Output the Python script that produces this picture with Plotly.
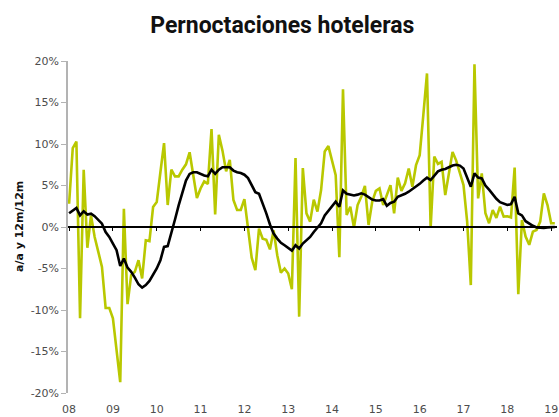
import plotly.graph_objects as go

# Monthly data, Jan 2008 .. Feb 2019 (index 0 = Jan 2008)
tick_labels = ["08", "09", "10", "11", "12", "13", "14", "15", "16", "17", "18", "19"]

aa_mensual = [
    2.8, 9.5, 10.3, -11.0, 6.9, -2.5, 1.4, -1.2, -3.0, -4.8, -9.75, -9.75,          # 2008
    -11.0, -14.8, -18.7, 2.2, -9.3, -5.8, -5.4, -4.0, -6.2, -1.6, -1.7, 2.4,        # 2009
    3.0, 6.6, 10.1, 2.65, 6.9, 6.1, 6.1, 6.9, 7.55, 9.0, 6.1, 3.5,                  # 2010
    4.65, 5.5, 5.2, 11.8, 1.5, 11.1, 9.2, 6.7, 8.1, 3.25, 2.05, 2.05,               # 2011
    3.35, -0.5, -3.7, -5.2, -0.2, -1.4, -1.55, -2.7, -0.4, -3.4, -5.5, -5.0,        # 2012
    -5.6, -7.5, 8.3, -10.8, 7.1, 1.65, 0.65, 3.3, 1.85, 4.45, 9.1, 9.75,            # 2013
    8.1, 6.25, -3.65, 16.6, 1.45, 2.45, -0.05, 2.65, 3.65, 4.95, 0.25, 3.05,        # 2014
    4.35, 4.65, 2.65, 3.85, 5.05, 1.65, 5.95, 4.35, 5.25, 7.05, 4.85, 7.45,         # 2015
    8.65, 13.5, 18.5, -0.1, 8.5, 7.6, 7.85, 3.85, 6.6, 9.05, 8.0, 6.45,             # 2016
    5.05, 0.65, -7.0, 19.6, 3.45, 6.45, 1.65, 0.45, 2.05, 1.1, 2.45, 1.25,          # 2017
    1.3, 1.15, 7.15, -8.1, 0.85, -1.15, -2.15, -0.55, -0.35, 0.65, 4.05, 2.65,      # 2018
    0.45, 0.45,                                                                     # 2019
]

acum_12m = [
    1.65, 2.0, 2.3, 1.4, 1.9, 1.5, 1.6, 1.3, 0.9, 0.4, -0.6, -1.2,
    -2.0, -2.8, -4.7, -3.8, -4.9, -5.4, -6.1, -6.9, -7.3, -7.0, -6.5, -5.8,
    -5.0, -4.0, -2.4, -2.3, -0.8, 0.9, 2.6, 4.1, 5.6, 6.4, 6.6, 6.6,
    6.4, 6.2, 6.1, 6.9, 6.4, 6.9, 7.2, 7.2, 7.2, 6.8, 6.6, 6.5,
    6.3, 5.9, 5.0, 4.2, 4.0, 2.9, 1.65, 0.3, -0.8, -1.4, -1.9, -2.2,
    -2.5, -2.85, -2.2, -2.6, -2.0, -1.6, -1.2, -0.6, -0.1, 0.45, 1.4, 2.0,
    2.6, 3.05, 2.45, 4.4, 4.0, 3.9, 3.8, 3.9, 4.05, 3.9, 3.55, 3.3,
    3.2, 3.2, 3.35, 2.55, 2.9, 3.05, 3.65, 3.8, 4.0, 4.25, 4.55, 4.85,
    5.2, 5.6, 5.95, 5.65, 6.2, 6.7, 6.9, 7.0, 7.2, 7.4, 7.5, 7.4,
    7.05, 5.9, 4.85, 6.45, 5.95, 5.85, 5.0, 4.5, 3.9, 3.4, 3.0, 2.8,
    2.65, 2.75, 3.65, 1.65, 1.4, 0.7, 0.4, 0.15, -0.05, -0.1, -0.1, -0.05,
    0.0, 0.0,
]

months = list(range(len(aa_mensual)))
tick_vals = [12 * i for i in range(len(tick_labels))]
x_range = [-0.3, 133.6]

GREEN = "#b9c800"

fig = go.Figure()
fig.add_trace(go.Scatter(x=months, y=aa_mensual, mode="lines",
                         line=dict(color=GREEN, width=2.6), name="a/a",
                         xaxis="x", yaxis="y"))
fig.add_trace(go.Scatter(x=months, y=acum_12m, mode="lines",
                         line=dict(color="#000000", width=2.6), name="12m/12m",
                         xaxis="x2", yaxis="y"))

fig.update_layout(
    width=559, height=417,
    margin=dict(l=68, r=2, t=61, b=24, autoexpand=False),
    paper_bgcolor="white", plot_bgcolor="white",
    showlegend=False,
    title=dict(text="<b>Pernoctaciones hoteleras</b>", x=0.505, xanchor="center",
               y=0.94, yanchor="middle",
               font=dict(family="Roboto", size=23, color="#111111")),
    xaxis=dict(range=x_range, tickmode="array", tickvals=tick_vals, ticktext=tick_labels,
               showline=False, showgrid=False, zeroline=False, automargin=False,
               ticks="outside", ticklen=6, tickcolor="rgba(0,0,0,0)",
               tickfont=dict(family="DejaVu Sans", size=11, color="#4d4d4d")),
    xaxis2=dict(range=x_range, overlaying="x", anchor="free", position=0.5, side="bottom",
                tickmode="array", tickvals=tick_vals, showticklabels=False,
                showline=True, linecolor="#000000", linewidth=1.5, automargin=False,
                ticks="outside", ticklen=3, tickcolor="#000000", tickwidth=1,
                showgrid=False, zeroline=False),
    yaxis=dict(range=[-20, 20], tickmode="array",
               tickvals=[-20, -15, -10, -5, 0, 5, 10, 15, 20],
               ticktext=["-20%", "-15%", "-10%", "-5%", "0%", "5%", "10%", "15%", "20%"],
               showline=True, linecolor="#b3b3b3", linewidth=1.5, automargin=False,
               ticks="outside", ticklen=5, tickcolor="#b3b3b3",
               showgrid=False, zeroline=False,
               tickfont=dict(family="DejaVu Sans", size=11, color="#4d4d4d")),
    annotations=[dict(text="<b>a/a y 12m/12m</b>", textangle=-90,
                      xref="paper", yref="paper", x=-0.1002, y=0.5,
                      xanchor="center", yanchor="middle", showarrow=False,
                      font=dict(family="DejaVu Sans", size=11, color="#111111"))],
)

fig.write_html("out.html", config={"displayModeBar": False},
               post_script="document.body.style.margin='0px';")
